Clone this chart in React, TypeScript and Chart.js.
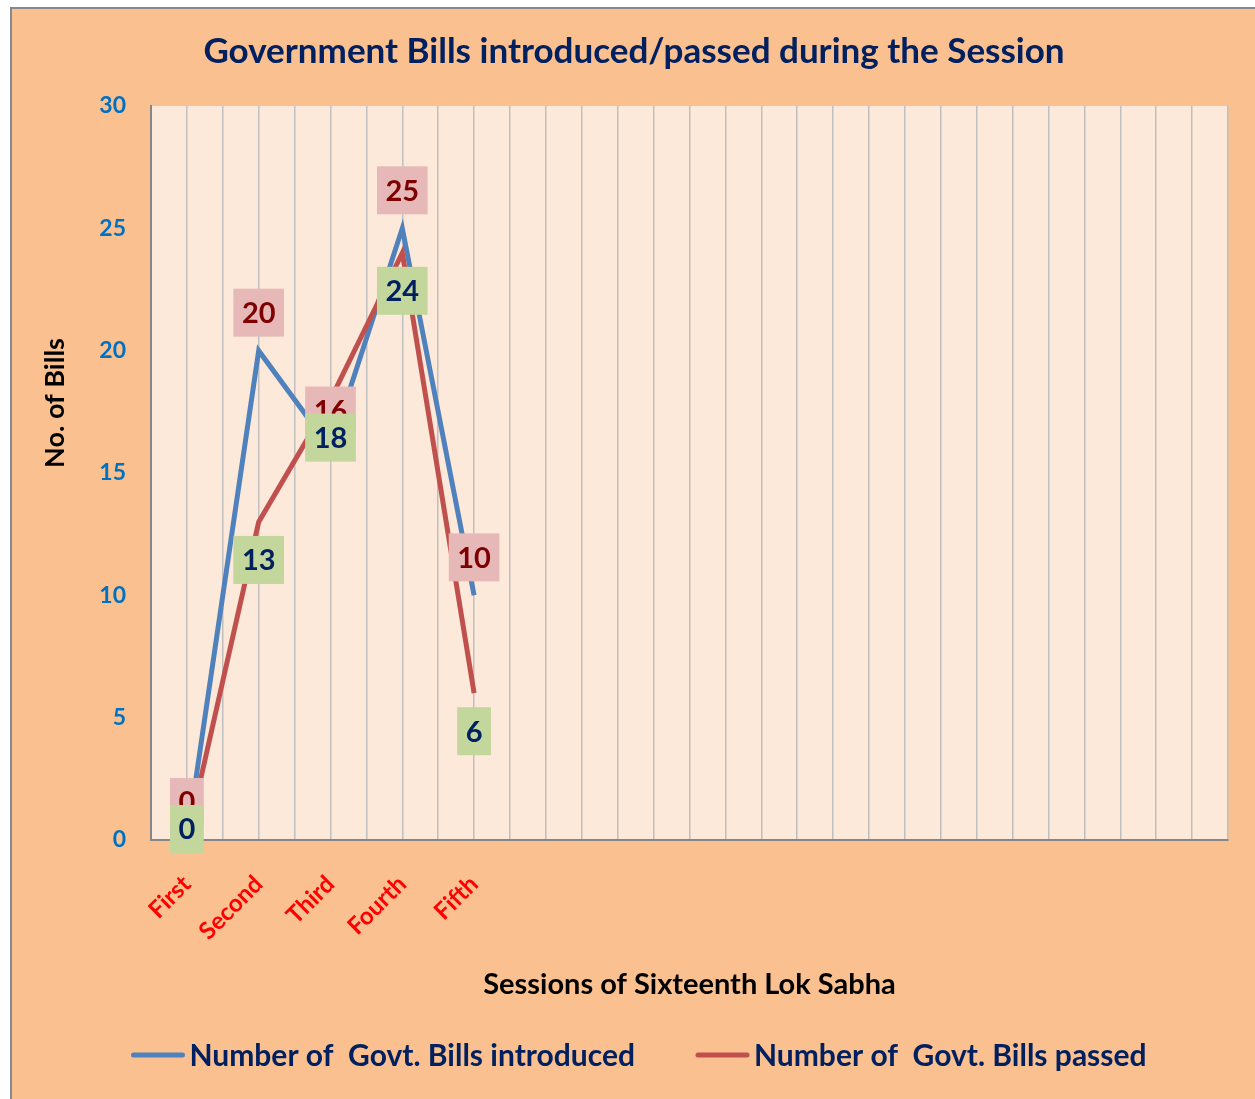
import React, { useEffect, useRef } from 'react';
import { Chart, registerables } from 'chart.js';

Chart.register(...registerables);

const chartTitle = 'Government Bills introduced/passed during the Session';
const categories = ['First', 'Second', 'Third', 'Fourth', 'Fifth'];
const slotCount = 15;
const introduced = [0, 20, 16, 25, 10];
const passed = [0, 13, 18, 24, 6];
const seriesNames = ['Number of  Govt. Bills introduced', 'Number of  Govt. Bills passed'];
const yMin = 0;
const yMax = 30;
const yStep = 5;
const xAxisTitle = 'Sessions of Sixteenth Lok Sabha';
const yAxisTitle = 'No. of Bills';

const FONT = 'Lato, "Open Sans", sans-serif';
const BLUE = '#4F81BD';
const RED = '#C0504D';
const NAVY = '#002060';

const plotBackground = {
  id: 'plotBackground',
  beforeDraw(chart: any) {
    const { ctx, chartArea: a } = chart;
    ctx.save();
    ctx.fillStyle = '#FDE9D9';
    ctx.fillRect(a.left, a.top, a.right - a.left, a.bottom - a.top);
    ctx.restore();
  },
};

const boxLabels = {
  id: 'boxLabels',
  afterDatasetsDraw(chart: any) {
    const { ctx, chartArea: a } = chart;
    const styles = [
      { bg: '#E6B9B8', fg: '#7F0000', dy: -38 },
      { bg: '#C3D69B', fg: NAVY, dy: 38 },
    ];
    ctx.save();
    ctx.font = `bold 29px ${FONT}`;
    ctx.textAlign = 'center';
    ctx.textBaseline = 'middle';
    [0, 1].forEach((di) => {
      const meta = chart.getDatasetMeta(di);
      const ds = chart.data.datasets[di];
      const st = styles[di];
      meta.data.forEach((pt: any, i: number) => {
        const text = String(ds.data[i].y);
        const w = ctx.measureText(text).width + 17;
        const h = 48;
        const cy = Math.min(pt.y + st.dy, a.bottom - 11);
        ctx.fillStyle = st.bg;
        ctx.fillRect(pt.x - w / 2, cy - h / 2, w, h);
        ctx.fillStyle = st.fg;
        ctx.fillText(text, pt.x, cy + 1);
      });
    });
    ctx.restore();
  },
};

const extras = {
  id: 'extras',
  afterDraw(chart: any) {
    const { ctx, chartArea: a, width } = chart;
    ctx.save();
    ctx.fillStyle = '#000000';
    ctx.font = `bold 29px ${FONT}`;
    ctx.textAlign = 'center';
    ctx.textBaseline = 'middle';
    ctx.fillText(xAxisTitle, (a.left + a.right) / 2, 976);
    ctx.font = `bold 27px ${FONT}`;
    ctx.save();
    ctx.translate(43, 394);
    ctx.rotate(-Math.PI / 2);
    ctx.fillText(yAxisTitle, 0, 0);
    ctx.restore();
    const colors = [BLUE, RED];
    ctx.font = `bold 30px ${FONT}`;
    const lineLen = 53;
    const gapText = 5;
    const gapItems = 61;
    const widths = seriesNames.map((s) => lineLen + gapText + ctx.measureText(s).width);
    const total = widths[0] + widths[1] + gapItems;
    let x = width / 2 + 5 - total / 2;
    const y = 1046;
    ctx.textAlign = 'left';
    seriesNames.forEach((name, i) => {
      ctx.strokeStyle = colors[i];
      ctx.lineWidth = 5;
      ctx.lineCap = 'round';
      ctx.beginPath();
      ctx.moveTo(x + 2, y);
      ctx.lineTo(x + lineLen - 2, y);
      ctx.stroke();
      ctx.fillStyle = NAVY;
      ctx.fillText(name, x + lineLen + gapText, y + 1);
      x += widths[i] + gapItems;
    });
    ctx.restore();
  },
};

export default function App() {
  const ref = useRef<HTMLCanvasElement>(null);
  useEffect(() => {
    const canvas = ref.current!;
    const chart = new Chart(canvas, {
      type: 'line',
      data: {
        datasets: [
          {
            label: seriesNames[0],
            data: categories.map((_, i) => ({ x: i, y: introduced[i] })),
            borderColor: BLUE,
            backgroundColor: BLUE,
            borderWidth: 5,
            pointRadius: 0,
            tension: 0,
            order: 1,
          },
          {
            label: seriesNames[1],
            data: categories.map((_, i) => ({ x: i, y: passed[i] })),
            borderColor: RED,
            backgroundColor: RED,
            borderWidth: 5,
            pointRadius: 0,
            tension: 0,
            order: 0,
          },
        ],
      },
      options: {
        responsive: false,
        animation: false,
        devicePixelRatio: 1,
        layout: { padding: { left: 28, right: 28, top: 0, bottom: 119 } },
        plugins: {
          legend: { display: false },
          tooltip: { enabled: false },
          title: {
            display: true,
            text: chartTitle,
            color: NAVY,
            font: { family: FONT, size: 35, weight: 'bold' },
            padding: { top: 22, bottom: 33 },
          },
        },
        scales: {
          x: {
            type: 'linear',
            min: -0.5,
            max: slotCount - 0.5,
            afterFit: (s: any) => {
              s.height = 140;
              s.paddingLeft = 0;
              s.paddingRight = 0;
            },
            ticks: {
              stepSize: 0.5,
              autoSkip: false,
              minRotation: 45,
              maxRotation: 45,
              padding: 30,
              color: '#FF0000',
              font: { family: FONT, size: 24, weight: 'bold' },
              callback: (value: any) => {
                const v = Number(value);
                return Number.isInteger(v) && v >= 0 && v < categories.length ? categories[v] : '';
              },
            },
            grid: { color: '#BFBFBF', lineWidth: 1.5, drawTicks: false },
            border: { color: '#868686', width: 2 },
          },
          y: {
            min: yMin,
            max: yMax,
            afterFit: (s: any) => {
              s.width = 111;
            },
            ticks: {
              stepSize: yStep,
              padding: 25,
              color: '#0070C0',
              font: { family: FONT, size: 23, weight: 'bold' },
            },
            grid: { display: false, drawTicks: false },
            border: { color: '#868686', width: 2 },
          },
        },
      },
      plugins: [plotBackground, boxLabels, extras],
    });
    return () => chart.destroy();
  }, []);

  return (
    <div
      style={{
        position: 'absolute',
        left: 0,
        top: 0,
        width: 1255,
        height: 1099,
        overflow: 'hidden',
        background: '#FFFFFF',
      }}
    >
      <div
        style={{
          position: 'absolute',
          left: 10,
          top: 7,
          width: 1262,
          height: 1110,
          background: '#FAC090',
          border: '2px solid #898989',
        }}
      >
        <canvas ref={ref} width={1244} height={1090} style={{ position: 'absolute', left: 0, top: 0 }} />
      </div>
    </div>
  );
}
